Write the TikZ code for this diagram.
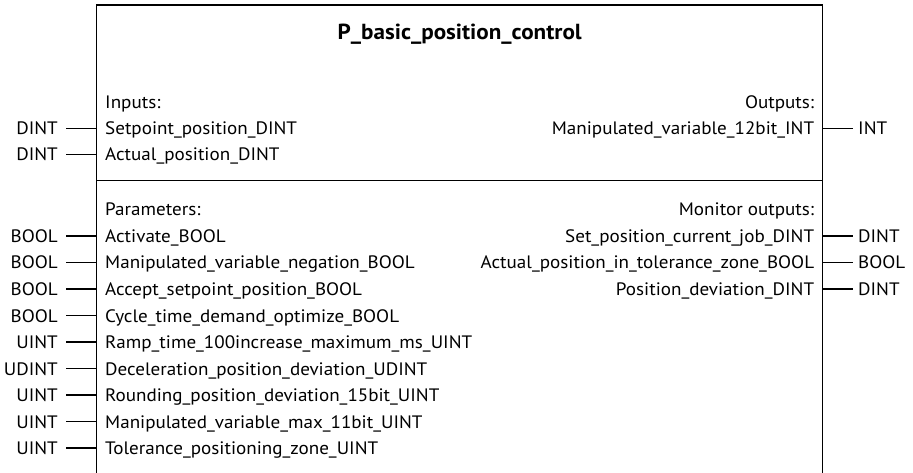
\documentclass[tikz,border=0pt]{standalone}
\usepackage{fontspec}
\setmainfont[FakeStretch=1.06]{PT Sans}
\begin{document}
\begin{tikzpicture}[x=1pt,y=-1pt,
  frame/.style={line width=1.3pt},
  wire/.style={line width=1.1pt},
  txt/.style={inner sep=0pt, font=\fontsize{18}{20}\selectfont},
  pinlabel/.style={txt},
  typlabel/.style={txt, inner xsep=8pt, anchor=base east},
  outtyp/.style={txt, inner xsep=5pt, anchor=base west},
  titletxt/.style={inner sep=0pt, font=\fontsize{21.8}{24}\selectfont\bfseries, anchor=base}
]
\useasboundingbox (0,0) rectangle (913,473);

% block outline, open at the bottom, with the divider between the two sections
\draw[frame] (96.7,476) -- (96.7,5) -- (822.7,5) -- (822.7,476);
\draw[frame] (96.7,180.7) -- (822.7,180.7);

\node[titletxt] (title) at (459.7,40) {P\_basic\_position\_control};

% section headers
\node[pinlabel, anchor=base west] (hin)  at (105,108.8) {Inputs:};
\node[pinlabel, anchor=base east] (hout) at (814.3,108.8) {Outputs:};
\node[pinlabel, anchor=base west] (hpar) at (105,216) {Parameters:};
\node[pinlabel, anchor=base east] (hmon) at (814.3,216) {Monitor outputs:};

% inputs
\foreach \i/\yy/\name/\typ in {
  1/128.3/Setpoint\_position\_DINT/DINT,
  2/154.3/Actual\_position\_DINT/DINT}{
  \coordinate (pinI\i) at (96.7,\yy);
  \node[pinlabel, anchor=base west] (in\i) at (105,\yy+6.5) {\name};
  \node[typlabel] (tin\i) at (66,\yy+6.5) {\typ};
  \draw[wire] (tin\i.east |- pinI\i) -- (pinI\i);
}

% output
\coordinate (pinO1) at (822.7,128.3);
\node[pinlabel, anchor=base east] (out1) at (814.3,134.8) {Manipulated\_variable\_12bit\_INT};
\node[outtyp] (tout1) at (853,134.8) {INT};
\draw[wire] (pinO1) -- (tout1.west |- pinO1);

% parameters
\foreach \i/\yy/\name/\typ in {
  1/236/Activate\_BOOL/BOOL,
  2/262.5/Manipulated\_variable\_negation\_BOOL/BOOL,
  3/289/Accept\_setpoint\_position\_BOOL/BOOL,
  4/315.5/Cycle\_time\_demand\_optimize\_BOOL/BOOL,
  5/342/Ramp\_time\_100increase\_maximum\_ms\_UINT/UINT,
  6/368.5/Deceleration\_position\_deviation\_UDINT/UDINT,
  7/395/Rounding\_position\_deviation\_15bit\_UINT/UINT,
  8/421.5/Manipulated\_variable\_max\_11bit\_UINT/UINT,
  9/448/Tolerance\_positioning\_zone\_UINT/UINT}{
  \coordinate (pinP\i) at (96.7,\yy);
  \node[pinlabel, anchor=base west] (par\i) at (105,\yy+6.5) {\name};
  \node[typlabel] (tpar\i) at (66,\yy+6.5) {\typ};
  \draw[wire] (tpar\i.east |- pinP\i) -- (pinP\i);
}

% monitor outputs
\foreach \i/\yy/\name/\typ in {
  1/236/Set\_position\_current\_job\_DINT/DINT,
  2/262.5/Actual\_position\_in\_tolerance\_zone\_BOOL/BOOL,
  3/289/Position\_deviation\_DINT/DINT}{
  \coordinate (pinM\i) at (822.7,\yy);
  \node[pinlabel, anchor=base east] (mon\i) at (814.3,\yy+6.5) {\name};
  \node[outtyp] (tmon\i) at (853,\yy+6.5) {\typ};
  \draw[wire] (pinM\i) -- (tmon\i.west |- pinM\i);
}
\end{tikzpicture}
\end{document}
